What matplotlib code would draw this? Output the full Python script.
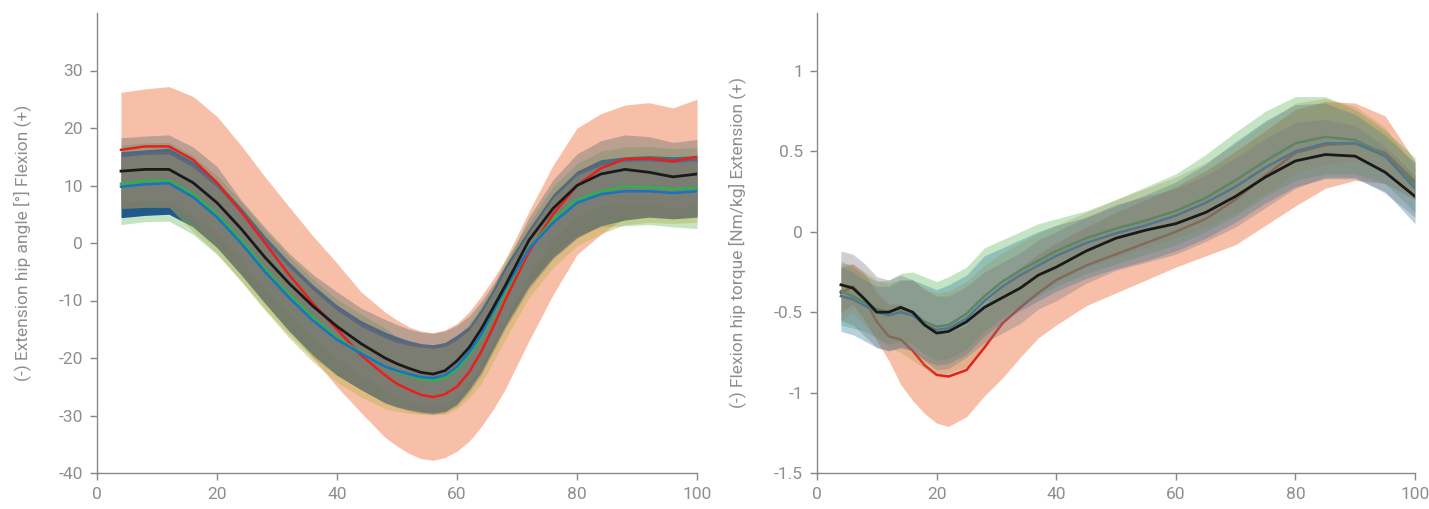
import matplotlib
matplotlib.use("Agg")
import matplotlib.pyplot as plt
from matplotlib.ticker import FuncFormatter

plt.rcParams['font.family'] = ['Roboto', 'DejaVu Sans']
plt.rcParams['axes.unicode_minus'] = False

# ---------------- Left panel: hip angle ----------------
X_L = [4, 8, 12, 16, 20, 24, 28, 32, 36, 40, 44, 48, 50, 52, 54, 56, 58, 60, 62, 64, 66, 68, 72, 76, 80, 84, 88, 92, 96, 100]

black_L = [12.5, 12.8, 12.8, 10.5, 7.0, 2.5, -2.5, -7.0, -11.0, -14.5, -17.5, -20.0, -21.0, -21.8, -22.5, -22.8, -22.2, -20.5, -18.2, -15.0, -11.3, -7.5, 0.5, 6.0, 10.0, 12.0, 12.8, 12.3, 11.5, 12.0]
black_L_hi = [18.3, 18.6, 18.8, 16.7, 13.3, 7.5, 2.7, -1.8, -5.5, -8.5, -11.3, -13.3, -14.2, -15.0, -15.5, -15.7, -15.3, -14.3, -12.7, -10.2, -7.2, -4.0, 4.5, 11.0, 15.5, 17.8, 18.8, 18.5, 17.5, 18.0]
black_L_lo = [7.2, 7.5, 7.3, 5.0, 1.5, -3.0, -8.0, -12.5, -16.5, -20.0, -23.0, -25.5, -26.6, -27.5, -28.2, -28.5, -28.0, -26.5, -24.2, -21.0, -17.3, -13.5, -5.5, 0.5, 4.5, 6.5, 7.0, 6.7, 6.0, 6.5]

red_L = [16.2, 16.8, 16.8, 14.5, 10.5, 5.5, 0.0, -5.5, -10.5, -15.0, -19.5, -23.0, -24.5, -25.5, -26.4, -26.8, -26.3, -25.0, -22.5, -19.0, -14.7, -10.0, -1.5, 5.0, 10.0, 13.0, 14.6, 14.7, 14.2, 15.0]
red_L_hi = [26.2, 26.8, 27.2, 25.5, 22.0, 17.0, 11.5, 6.3, 1.2, -3.5, -8.5, -12.0, -13.4, -14.6, -15.3, -15.6, -15.1, -14.0, -12.0, -9.3, -6.3, -3.0, 5.5, 13.5, 20.0, 22.5, 24.0, 24.4, 23.5, 25.0]
red_L_lo = [6.0, 6.5, 6.5, 3.5, 0.0, -5.0, -10.0, -15.0, -20.0, -25.0, -29.5, -33.8, -35.3, -36.6, -37.5, -37.8, -37.3, -36.2, -34.5, -32.0, -29.0, -25.5, -17.0, -9.0, -2.0, 1.5, 4.5, 5.0, 4.5, 5.0]

green_L = [10.3, 10.8, 10.8, 8.5, 5.0, 0.5, -4.5, -9.0, -13.0, -16.5, -19.0, -21.5, -22.4, -23.0, -23.6, -23.9, -23.4, -22.0, -19.5, -16.5, -12.5, -8.5, -1.0, 4.0, 7.5, 9.0, 9.8, 9.7, 9.4, 9.6]
green_L_hi = [17.0, 17.4, 17.5, 15.2, 11.7, 7.2, 2.2, -2.3, -6.3, -9.8, -12.4, -14.8, -16.3, -17.5, -18.0, -18.2, -17.7, -16.5, -14.0, -11.0, -7.5, -3.0, 3.5, 9.8, 13.8, 16.0, 16.7, 16.8, 16.4, 16.6]
green_L_lo = [3.2, 3.7, 3.8, 1.5, -2.0, -6.5, -11.5, -16.0, -20.0, -23.0, -25.5, -27.5, -28.2, -28.8, -29.1, -29.3, -29.0, -27.8, -25.5, -22.5, -18.5, -14.5, -7.0, -2.0, 1.5, 2.8, 3.0, 3.2, 2.8, 2.5]

blue_L = [9.8, 10.2, 10.4, 8.0, 4.5, 0.0, -5.0, -9.5, -13.5, -16.8, -19.2, -21.5, -22.2, -22.8, -23.3, -23.5, -23.0, -21.5, -19.0, -16.0, -12.0, -8.0, -1.0, 3.5, 7.0, 8.5, 9.0, 9.0, 8.7, 9.0]
blue_L_hi = [15.9, 16.2, 16.5, 14.2, 10.7, 6.2, 1.2, -3.3, -7.3, -10.8, -13.5, -15.5, -16.3, -17.0, -17.5, -17.7, -17.3, -16.0, -14.5, -11.5, -8.0, -4.0, 2.5, 8.5, 12.5, 14.5, 15.0, 15.2, 15.0, 15.2]
blue_L_lo = [4.4, 4.8, 5.0, 2.8, -0.8, -5.5, -10.5, -15.3, -19.5, -23.0, -25.5, -27.8, -28.5, -29.0, -29.4, -29.6, -29.3, -28.0, -25.5, -22.5, -18.5, -14.5, -7.5, -2.5, 1.0, 3.0, 4.0, 4.5, 4.2, 4.5]

purple_L_hi = [15.5, 15.8, 16.0, 13.8, 10.3, 5.8, 0.8, -3.7, -7.7, -11.2, -14.0, -16.0, -16.8, -17.3, -17.7, -17.9, -17.5, -16.3, -14.9, -11.9, -8.4, -4.4, 2.1, 8.1, 12.1, 14.0, 14.6, 14.8, 14.6, 14.8]
purple_L_lo = [6.0, 6.2, 6.2, 3.8, -0.3, -5.2, -10.2, -15.0, -19.2, -22.8, -25.5, -27.8, -28.6, -29.2, -29.6, -29.8, -29.5, -28.3, -26.0, -23.0, -19.0, -15.0, -8.0, -2.8, 0.8, 3.2, 4.4, 4.6, 4.4, 4.6]

olive_L_hi = [15.0, 15.4, 15.5, 13.2, 9.7, 5.2, 0.2, -4.2, -8.2, -11.7, -14.5, -16.5, -17.3, -17.8, -18.1, -18.3, -18.0, -16.8, -15.2, -12.2, -8.8, -4.8, 1.8, 7.8, 11.8, 13.5, 14.2, 14.3, 14.0, 14.3]
olive_L_lo = [6.0, 6.2, 6.2, 2.0, -1.8, -6.7, -11.7, -16.5, -20.7, -24.2, -26.8, -28.8, -29.3, -29.6, -29.8, -29.8, -29.8, -28.8, -27.0, -24.5, -20.7, -16.8, -9.5, -4.3, -0.5, 1.6, 3.2, 3.6, 3.4, 3.6]

# ---------------- Right panel: hip torque ----------------
X_R = [4, 6, 8, 10, 12, 14, 16, 18, 20, 22, 25, 28, 31, 34, 37, 40, 45, 50, 55, 60, 65, 70, 75, 80, 85, 90, 95, 100]

black_R = [-0.33, -0.35, -0.42, -0.50, -0.50, -0.47, -0.50, -0.58, -0.63, -0.62, -0.56, -0.47, -0.41, -0.35, -0.27, -0.22, -0.12, -0.04, 0.01, 0.05, 0.12, 0.22, 0.34, 0.44, 0.48, 0.47, 0.37, 0.22]
black_R_hi = [-0.12, -0.14, -0.20, -0.28, -0.30, -0.27, -0.30, -0.36, -0.40, -0.40, -0.34, -0.25, -0.19, -0.13, -0.05, 0.0, 0.09, 0.17, 0.22, 0.27, 0.35, 0.46, 0.58, 0.68, 0.70, 0.66, 0.53, 0.35]
black_R_lo = [-0.55, -0.58, -0.65, -0.72, -0.74, -0.72, -0.74, -0.80, -0.86, -0.85, -0.78, -0.69, -0.63, -0.57, -0.48, -0.43, -0.32, -0.24, -0.19, -0.14, -0.06, 0.03, 0.15, 0.27, 0.34, 0.34, 0.24, 0.09]

red_R = [-0.38, -0.34, -0.42, -0.56, -0.65, -0.67, -0.74, -0.83, -0.89, -0.90, -0.86, -0.72, -0.57, -0.47, -0.38, -0.30, -0.21, -0.14, -0.07, 0.0, 0.08, 0.20, 0.35, 0.49, 0.54, 0.55, 0.49, 0.31]
red_R_hi = [-0.22, -0.20, -0.26, -0.38, -0.45, -0.45, -0.50, -0.58, -0.63, -0.63, -0.58, -0.46, -0.33, -0.22, -0.14, -0.07, 0.03, 0.12, 0.20, 0.28, 0.38, 0.50, 0.63, 0.76, 0.81, 0.80, 0.72, 0.44]
red_R_lo = [-0.50, -0.45, -0.55, -0.68, -0.80, -0.95, -1.05, -1.13, -1.19, -1.21, -1.15, -1.02, -0.91, -0.78, -0.66, -0.58, -0.46, -0.38, -0.30, -0.22, -0.15, -0.08, 0.04, 0.16, 0.27, 0.32, 0.30, 0.20]

green_R = [-0.37, -0.40, -0.44, -0.48, -0.50, -0.48, -0.50, -0.56, -0.59, -0.58, -0.51, -0.40, -0.31, -0.24, -0.18, -0.12, -0.04, 0.02, 0.07, 0.13, 0.21, 0.32, 0.44, 0.55, 0.59, 0.57, 0.48, 0.29]
green_R_hi = [-0.18, -0.22, -0.27, -0.31, -0.30, -0.26, -0.25, -0.28, -0.31, -0.28, -0.22, -0.10, -0.05, 0.0, 0.05, 0.08, 0.13, 0.20, 0.28, 0.36, 0.48, 0.62, 0.75, 0.84, 0.84, 0.76, 0.63, 0.46]
green_R_lo = [-0.58, -0.60, -0.62, -0.66, -0.70, -0.68, -0.70, -0.76, -0.80, -0.79, -0.73, -0.62, -0.53, -0.46, -0.40, -0.34, -0.26, -0.20, -0.14, -0.08, 0.0, 0.10, 0.22, 0.32, 0.36, 0.36, 0.30, 0.12]

blue_R = [-0.40, -0.42, -0.46, -0.50, -0.52, -0.50, -0.52, -0.58, -0.61, -0.60, -0.54, -0.43, -0.34, -0.27, -0.21, -0.15, -0.07, -0.01, 0.04, 0.10, 0.18, 0.28, 0.40, 0.50, 0.55, 0.55, 0.47, 0.27]
blue_R_hi = [-0.22, -0.25, -0.30, -0.34, -0.34, -0.30, -0.30, -0.33, -0.36, -0.33, -0.27, -0.15, -0.10, -0.05, 0.0, 0.04, 0.09, 0.16, 0.23, 0.31, 0.42, 0.56, 0.69, 0.79, 0.80, 0.73, 0.60, 0.43]
blue_R_lo = [-0.62, -0.64, -0.68, -0.72, -0.74, -0.72, -0.74, -0.80, -0.83, -0.82, -0.76, -0.65, -0.56, -0.49, -0.43, -0.37, -0.29, -0.23, -0.18, -0.12, -0.04, 0.06, 0.18, 0.28, 0.33, 0.33, 0.25, 0.05]

olive_R_hi = [-0.20, -0.20, -0.25, -0.30, -0.32, -0.30, -0.30, -0.35, -0.38, -0.37, -0.31, -0.21, -0.13, -0.07, -0.01, 0.04, 0.12, 0.20, 0.27, 0.34, 0.43, 0.55, 0.68, 0.80, 0.83, 0.78, 0.65, 0.40]
olive_R_lo = [-0.55, -0.50, -0.58, -0.66, -0.72, -0.75, -0.80, -0.85, -0.88, -0.88, -0.84, -0.70, -0.56, -0.46, -0.38, -0.31, -0.22, -0.16, -0.10, -0.04, 0.03, 0.12, 0.24, 0.36, 0.42, 0.44, 0.38, 0.20]

X_TICKS = [0, 20, 40, 60, 80, 100]
Y_TICKS_L = [-40, -30, -20, -10, 0, 10, 20, 30]
Y_TICKS_R = [-1.5, -1, -0.5, 0, 0.5, 1]
YLABEL_L = "(-) Extension hip angle [°] Flexion (+)"
YLABEL_R = "(-) Flexion hip torque [Nm/kg] Extension (+)"

GRAY = '#8e8e8e'
W, H = 1429, 509
fig = plt.figure(figsize=(W / 100, H / 100), dpi=100)
axL = fig.add_axes([97 / W, (H - 473) / H, 600 / W, 460 / H])
axR = fig.add_axes([817 / W, (H - 473) / H, 598 / W, 460 / H])

# left bands
axL.fill_between(X_L, red_L_lo, red_L_hi, color='#f8bfa8', lw=0, zorder=1)
axL.fill_between(X_L, green_L_lo, green_L_hi, color='#2ca02c', alpha=0.28, lw=0, zorder=2)
axL.fill_between(X_L, blue_L_lo, blue_L_hi, color='#024280', alpha=0.85, lw=0, zorder=3)
axL.fill_between(X_L, purple_L_lo, purple_L_hi, color='#6e468c', alpha=0.4, lw=0, zorder=4)
axL.fill_between(X_L, olive_L_lo, olive_L_hi, color='#beb450', alpha=0.45, lw=0, zorder=5)
axL.fill_between(X_L, black_L_lo, black_L_hi, color='#80807a', alpha=0.5, lw=0, zorder=6)
axL.plot(X_L, red_L, color='#e8201c', lw=1.8, zorder=10)
axL.plot(X_L, green_L, color='#2db34a', lw=1.8, zorder=10)
axL.plot(X_L, blue_L, color='#1a72c0', lw=1.8, zorder=10)
axL.plot(X_L, black_L, color='#1a1a1a', lw=2.0, zorder=11)

# right bands and lines
axR.fill_between(X_R, red_R_lo, red_R_hi, color='#f8bfa8', lw=0, zorder=1)
axR.plot(X_R, red_R, color='#e8201c', lw=1.8, zorder=2)
axR.fill_between(X_R, green_R_lo, green_R_hi, color='#2ca02c', alpha=0.28, lw=0, zorder=3)
axR.plot(X_R, green_R, color='#3a9a3a', lw=1.8, zorder=4)
axR.fill_between(X_R, blue_R_lo, blue_R_hi, color='#2f7da2', alpha=0.35, lw=0, zorder=5)
axR.plot(X_R, blue_R, color='#2070b0', lw=1.8, zorder=6)
axR.fill_between(X_R, olive_R_lo, olive_R_hi, color='#a08a40', alpha=0.25, lw=0, zorder=7)
axR.fill_between(X_R, black_R_lo, black_R_hi, color='#787882', alpha=0.35, lw=0, zorder=8)
axR.plot(X_R, black_R, color='#1a1a1a', lw=2.0, zorder=11)

fmt = FuncFormatter(lambda v, p: f"{v:g}")
for ax, yt, ylim, lab in [(axL, Y_TICKS_L, (-40, 40), YLABEL_L),
                          (axR, Y_TICKS_R, (-1.5, 1.36), YLABEL_R)]:
    ax.set_xlim(0, 100)
    ax.set_ylim(*ylim)
    ax.set_xticks(X_TICKS)
    ax.set_yticks(yt)
    ax.yaxis.set_major_formatter(fmt)
    for s in ['top', 'right']:
        ax.spines[s].set_visible(False)
    for s in ['left', 'bottom']:
        ax.spines[s].set_color('#888888')
        ax.spines[s].set_linewidth(1.0)
    ax.tick_params(axis='both', direction='out', length=5, width=1.0,
                   color='#888888', labelcolor=GRAY, labelsize=12.5, pad=5)
    ax.set_ylabel(lab, color=GRAY, fontsize=12.5, labelpad=20)
    ax.set_facecolor('none')

fig.savefig('out.png', dpi=100, facecolor='white')
